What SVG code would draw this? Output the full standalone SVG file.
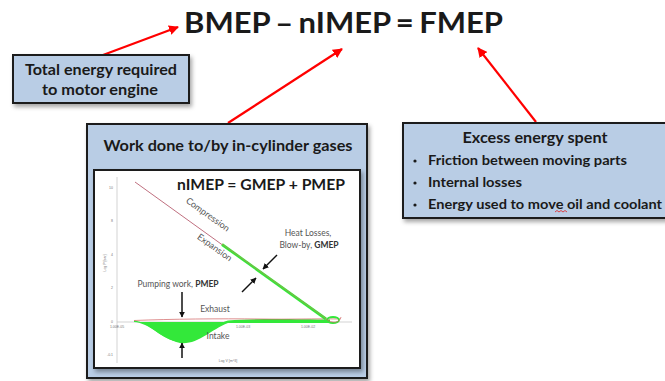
<svg xmlns="http://www.w3.org/2000/svg" width="665" height="381" viewBox="0 0 665 381">
<defs>
<style>
.box{fill:#b9cde5;stroke:#1f1f1f;stroke-width:2}
.b{font-family:Lato,"Liberation Sans",sans-serif;font-weight:bold;fill:#1a1a1a}
.s{font-family:Lato,"Liberation Sans",sans-serif;fill:#555}
.tk{font-family:"Liberation Sans",sans-serif;font-size:3.5px;fill:#777}
.red{stroke:#ff0000;stroke-width:2.2;fill:none}
.blk{stroke:#111;stroke-width:1.5;fill:none}
</style>
<marker id="ra" viewBox="0 0 10 10" refX="9" refY="5" markerWidth="4.5" markerHeight="4.5" orient="auto" markerUnits="strokeWidth"><path d="M0,0 L10,5 L0,10 z" fill="#ff0000"/></marker>
<marker id="ba" viewBox="0 0 10 10" refX="9" refY="5" markerWidth="4" markerHeight="4" orient="auto" markerUnits="strokeWidth"><path d="M0,0 L10,5 L0,10 z" fill="#111"/></marker>
<filter id="sh" x="-10%" y="-10%" width="130%" height="140%"><feDropShadow dx="2" dy="3" stdDeviation="2" flood-color="#000" flood-opacity="0.35"/></filter>
</defs>
<rect width="665" height="381" fill="#ffffff"/>

<g id="equation">
<text class="b" x="184" y="33" font-size="29" word-spacing="-2" textLength="319" lengthAdjust="spacingAndGlyphs">BMEP – nIMEP = FMEP</text>
</g>

<g id="connectors">
<line class="red" x1="103" y1="55" x2="178" y2="27" marker-end="url(#ra)"/>
<line class="red" x1="228" y1="123" x2="342" y2="49" marker-end="url(#ra)"/>
<line class="red" x1="536" y1="122" x2="478" y2="48" marker-end="url(#ra)"/>
</g>

<g id="total-energy">
<rect class="box" x="13" y="55" width="176" height="48" filter="url(#sh)"/>
<text class="b" x="101" y="75" font-size="14.5" text-anchor="middle" textLength="152" lengthAdjust="spacingAndGlyphs">Total energy required</text>
<text class="b" x="100" y="95" font-size="14.5" text-anchor="middle" textLength="116" lengthAdjust="spacingAndGlyphs">to motor engine</text>
</g>

<g id="excess-energy">
<rect class="box" x="403" y="123" width="266" height="95" filter="url(#sh)"/>
<text class="b" x="535" y="143" font-size="15" text-anchor="middle" textLength="145" lengthAdjust="spacingAndGlyphs">Excess energy spent</text>
<circle cx="415" cy="161" r="1.6" fill="#1a1a1a"/>
<circle cx="415" cy="183" r="1.6" fill="#1a1a1a"/>
<circle cx="415" cy="205" r="1.6" fill="#1a1a1a"/>
<text class="b" x="428" y="165" font-size="13.5" textLength="199" lengthAdjust="spacingAndGlyphs">Friction between moving parts</text>
<text class="b" x="428" y="187" font-size="13.5" textLength="94" lengthAdjust="spacingAndGlyphs">Internal losses</text>
<text class="b" x="428" y="209" font-size="13.5" textLength="234" lengthAdjust="spacingAndGlyphs">Energy used to move oil and coolant</text>
<path d="M555,212 l2,-1.5 l2,1.5 l2,-1.5 l2,1.5 l2,-1.5 l2,1.5" stroke="#e02020" stroke-width="0.8" fill="none"/>
</g>

<g id="work-done">
<rect class="box" x="87" y="124" width="280" height="254" filter="url(#sh)"/>
<text class="b" x="228" y="151" font-size="15.5" text-anchor="middle" textLength="249" lengthAdjust="spacingAndGlyphs">Work done to/by in-cylinder gases</text>
<rect x="94" y="170" width="266" height="198" fill="#ffffff" stroke="#1f1f1f" stroke-width="2" filter="url(#sh)"/>
<text class="b" x="177" y="190" font-size="14.5" textLength="168" lengthAdjust="spacingAndGlyphs">nIMEP = GMEP + PMEP</text>

<line x1="117" y1="177" x2="117" y2="363" stroke="#c8c8c8" stroke-width="0.8"/>
<line x1="117" y1="322" x2="352" y2="322" stroke="#c8c8c8" stroke-width="0.8"/>
<text class="tk" x="113" y="189" text-anchor="end">10</text>
<text class="tk" x="113" y="222" text-anchor="end">8</text>
<text class="tk" x="113" y="256" text-anchor="end">4</text>
<text class="tk" x="113" y="289" text-anchor="end">2</text>
<text class="tk" x="113" y="323" text-anchor="end">0</text>
<text class="tk" x="113" y="356" text-anchor="end">-0.1</text>
<text class="tk" x="117" y="328" text-anchor="middle">1.00E-05</text>
<text class="tk" x="180" y="328" text-anchor="middle">1.00E-04</text>
<text class="tk" x="243" y="328" text-anchor="middle">1.00E-03</text>
<text class="tk" x="308" y="328" text-anchor="middle">1.00E-02</text>
<text class="tk" x="228" y="362" text-anchor="middle">Log V [m^3]</text>
<text class="tk" x="106" y="263" text-anchor="middle" transform="rotate(-90 106 263)">Log P [bar]</text>

<path d="M134,322 L330,322 L330,319.5 C300,319.5 260,318 228,320.5 C210,326 198,343 180,342 C160,340 150,322 134,320.5 Z" fill="#33e83a"/>
<path d="M134,322 C150,323 160,338 180,343 C198,345 210,330 228,323 L330,323 L330,322 Z" fill="#33e83a"/>
<path d="M134,320.5 C170,319 220,318.5 260,319 C290,319.5 315,318.5 340,319" stroke="#d06060" stroke-width="0.7" fill="none"/>

<line x1="135" y1="182" x2="226" y2="247.5" stroke="#c07080" stroke-width="1"/>
<line x1="222" y1="244.5" x2="326" y2="319" stroke="#33e83a" stroke-width="2.8"/>
<line x1="222" y1="244" x2="326" y2="318.5" stroke="#d08050" stroke-width="0.6"/>
<ellipse cx="333" cy="320" rx="6" ry="3" fill="none" stroke="#33e83a" stroke-width="1.8"/>
<path d="M326,319 C332,324 340,323 341,317" stroke="#d06060" stroke-width="0.7" fill="none"/>

<text class="s" x="206" y="217" font-size="9" text-anchor="middle" transform="rotate(35.7 206 217)">Compression</text>
<text class="s" x="213" y="250" font-size="9" text-anchor="middle" transform="rotate(35.7 213 250)">Expansion</text>
<text class="s" x="308" y="236" font-size="8.5" text-anchor="middle">Heat Losses,</text>
<text class="s" x="309" y="248" font-size="8.5" text-anchor="middle">Blow-by, <tspan font-weight="bold" fill="#333">GMEP</tspan></text>
<text class="s" x="178" y="287" font-size="8.5" text-anchor="middle">Pumping work, <tspan font-weight="bold" fill="#333">PMEP</tspan></text>
<text class="s" x="215" y="312" font-size="8.5" text-anchor="middle">Exhaust</text>
<text class="s" x="218" y="339" font-size="8.5" text-anchor="middle">Intake</text>

<line class="blk" x1="277" y1="255" x2="263" y2="269" marker-end="url(#ba)"/>
<line class="blk" x1="242" y1="292" x2="256" y2="278" marker-end="url(#ba)"/>
<line class="blk" x1="182" y1="292" x2="182" y2="317" marker-end="url(#ba)"/>
<line class="blk" x1="182" y1="358" x2="182" y2="343" marker-end="url(#ba)"/>
</g>
</svg>
